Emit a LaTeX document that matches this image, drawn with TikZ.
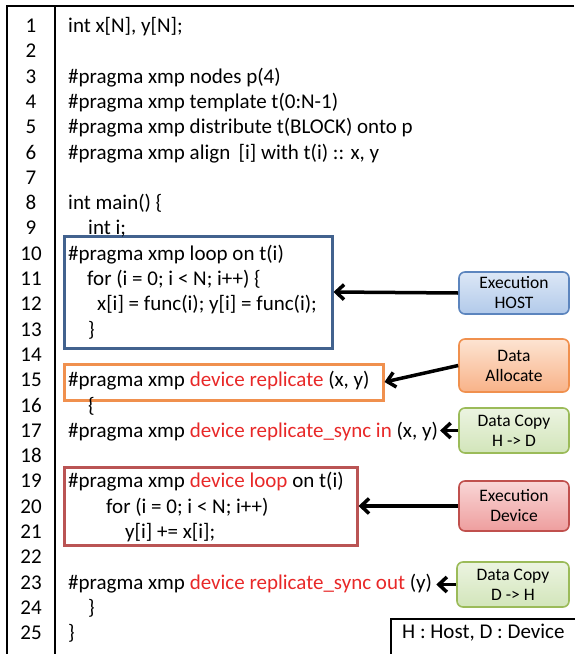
\documentclass[tikz,border=0pt]{standalone}
\usepackage{fontspec}
\setmainfont{Carlito}
\usetikzlibrary{arrows.meta}

\definecolor{kw}{RGB}{232,40,40}
\definecolor{loopblue}{RGB}{66,98,142}
\definecolor{reporange}{RGB}{240,144,78}
\definecolor{devred}{RGB}{186,84,84}
\definecolor{hostdraw}{RGB}{92,133,190}
\definecolor{hosttop}{RGB}{220,231,246}
\definecolor{hostbot}{RGB}{178,202,234}
\definecolor{allocdraw}{RGB}{240,144,78}
\definecolor{alloctop}{RGB}{253,228,210}
\definecolor{allocbot}{RGB}{248,178,136}
\definecolor{copydraw}{RGB}{155,187,89}
\definecolor{copytop}{RGB}{236,244,225}
\definecolor{copybot}{RGB}{210,229,186}
\definecolor{devdraw}{RGB}{192,80,77}
\definecolor{devtop}{RGB}{249,214,214}
\definecolor{devbot}{RGB}{238,158,158}

\tikzset{
  code/.style={anchor=base west, inner sep=0pt, font=\fontsize{21}{25}\selectfont},
  lineno/.style={anchor=base, inner sep=0pt, font=\fontsize{21}{25}\selectfont},
  hlbox/.style={draw, line width=3pt, inner sep=0pt},
  tag/.style={draw, rounded corners=6pt, line width=1.6pt, align=center,
    minimum width=110pt, inner sep=0pt, font=\fontsize{17.5}{20}\selectfont},
  hosttag/.style={tag, draw=hostdraw, top color=hosttop, bottom color=hostbot},
  alloctag/.style={tag, draw=allocdraw, top color=alloctop, bottom color=allocbot},
  copytag/.style={tag, draw=copydraw, top color=copytop, bottom color=copybot},
  devtag/.style={tag, draw=devdraw, top color=devtop, bottom color=devbot},
  pointer/.style={line width=3.5pt, -{Straight Barb[length=8pt,width=15pt]}},
}

% baseline of source line #1
\newcommand{\by}[1]{32.5+(#1-1)*25.3}

\begin{document}
\begin{tikzpicture}[x=1pt,y=-1pt]
\useasboundingbox (0,0) rectangle (574,654);

% code frame: top rule, left rule and line-number divider
\draw[line width=2pt] (574,6) -- (7,6) -- (7,660);
\draw[line width=2pt] (55,6) -- (55,660);

% line numbers
\foreach \n in {1,...,25}
  \node[lineno] (n\n) at (31,{32.5+(\n-1)*25.3}) {\n};

% highlight boxes
\node[hlbox, draw=loopblue, minimum width=268pt, minimum height=112pt] (loopbox) at (198,292) {};
\node[hlbox, draw=reporange, minimum width=319pt, minimum height=36pt] (repbox) at (223.5,382) {};
\node[hlbox, draw=devred, minimum width=293pt, minimum height=78pt] (dloopbox) at (210.5,506) {};

% source lines
\node[code] (l1)  at (68,{\by{1}})  {int x[N], y[N];};
\node[code] (l3)  at (68,{\by{3}})  {\#pragma xmp nodes p(4)};
\node[code] (l4)  at (68,{\by{4}})  {\#pragma xmp template t(0:N-1)};
\node[code] (l5)  at (68,{\by{5}})  {\#pragma xmp distribute t(BLOCK) onto p};
\node[code] (l6)  at (68,{\by{6}})  {\#pragma xmp align \,[i] with t(i) :: x, y};
\node[code] (l8)  at (68,{\by{8}})  {int main() \{};
\node[code] (l9)  at (88,{\by{9}})  {int i;};
\node[code] (l10) at (68,{\by{10}}) {\#pragma xmp loop on t(i)};
\node[code] (l11) at (87,{\by{11}}) {for (i = 0; i < N; i++) \{};
\node[code] (l12) at (97,{\by{12}}) {x[i] = func(i); y[i] = func(i);};
\node[code] (l13) at (88,{\by{13}}) {\}};
\node[code] (l15) at (68,{\by{15}}) {\#pragma xmp \textcolor{kw}{device replicate} (x, y)};
\node[code] (l16) at (88,{\by{16}}) {\{};
\node[code] (l17) at (68,{\by{17}}) {\#pragma xmp \textcolor{kw}{device replicate\_sync in} (x, y)};
\node[code] (l19) at (68,{\by{19}}) {\#pragma xmp \textcolor{kw}{device loop} on t(i)};
\node[code] (l20) at (106,{\by{20}}) {for (i = 0; i < N; i++)};
\node[code] (l21) at (125,{\by{21}}) {y[i] += x[i];};
\node[code] (l23) at (68,{\by{23}}) {\#pragma xmp \textcolor{kw}{device replicate\_sync out} (y)};
\node[code] (l24) at (88,{\by{24}}) {\}};
\node[code] (l25) at (68,{\by{25}}) {\}};

% annotation tags
\node[hosttag,  minimum height=42pt] (host)  at (514,293)   {Execution\\HOST};
\node[alloctag, minimum height=53pt] (alloc) at (514,365.5) {Data\\Allocate};
\node[copytag,  minimum height=45pt] (htod)  at (514,430.5) {Data Copy\\H -> D};
\node[devtag,   minimum height=50pt] (dev)   at (514,506)   {Execution\\Device};
\node[copytag,  minimum height=45pt, minimum width=112pt] (dtoh) at (513,584.5) {Data Copy\\D -> H};

% pointers
\draw[pointer] (host.west) -- (loopbox.east);
\draw[pointer] (alloc.west) -- (repbox.east);
\draw[pointer, shorten >=2pt] (htod.west) -- (htod.west -| l17.east);
\draw[pointer] (dev.west) -- (dloopbox.east);
\draw[pointer, shorten >=4pt] (dtoh.west) -- (dtoh.west -| l23.east);

% legend
\node[draw, line width=1.5pt, anchor=north west, minimum width=200pt, minimum height=45pt,
      inner sep=0pt] (legendbox) at (390,618) {};
\node[anchor=base west, inner sep=0pt, font=\fontsize{21}{25}\selectfont] (legend) at (402,638) {H : Host, D : Device};
\end{tikzpicture}
\end{document}
